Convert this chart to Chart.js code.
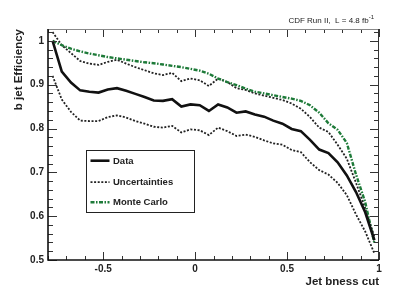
<!DOCTYPE html>
<html>
<head>
<meta charset="utf-8">
<script src="https://cdn.jsdelivr.net/npm/chart.js@4.4.1/dist/chart.umd.min.js"></script>
<style>
html,body{margin:0;padding:0;background:#fff;}
#wrap{width:399px;height:290px;}
</style>
</head>
<body>
<div id="wrap"><canvas id="c" width="399" height="290"></canvas></div>
<script>
// ---- data ----
const xValues = [-0.775,-0.725,-0.675,-0.625,-0.575,-0.525,-0.475,-0.425,-0.375,-0.325,-0.275,-0.225,-0.175,-0.125,-0.075,-0.025,0.025,0.075,0.125,0.175,0.225,0.275,0.325,0.375,0.425,0.475,0.525,0.575,0.625,0.675,0.725,0.775,0.825,0.875,0.925,0.975];
const dataEff = [1.0,0.93,0.905,0.887,0.884,0.882,0.889,0.892,0.886,0.879,0.872,0.864,0.863,0.867,0.85,0.855,0.853,0.84,0.855,0.848,0.836,0.839,0.832,0.827,0.818,0.811,0.799,0.794,0.774,0.752,0.744,0.723,0.693,0.655,0.609,0.545];
const uncUpper = [1.02,0.99,0.972,0.954,0.948,0.945,0.952,0.957,0.948,0.94,0.933,0.926,0.922,0.927,0.908,0.914,0.91,0.897,0.914,0.906,0.892,0.888,0.88,0.875,0.87,0.865,0.857,0.845,0.826,0.802,0.792,0.763,0.731,0.676,0.618,0.553];
const uncLower = [0.92,0.866,0.838,0.818,0.817,0.817,0.826,0.83,0.825,0.817,0.811,0.804,0.802,0.806,0.791,0.798,0.796,0.785,0.802,0.794,0.783,0.786,0.781,0.773,0.766,0.763,0.751,0.746,0.723,0.705,0.695,0.676,0.648,0.604,0.565,0.515];
const mcEff = [1.0,0.99,0.982,0.976,0.971,0.967,0.963,0.96,0.957,0.954,0.951,0.949,0.946,0.943,0.94,0.936,0.932,0.925,0.914,0.906,0.899,0.891,0.884,0.88,0.876,0.872,0.868,0.863,0.853,0.836,0.812,0.797,0.767,0.695,0.632,0.538];
const yTickValues = [0.5,0.6,0.7,0.8,0.9,1];
const xTickValues = [-0.5,0,0.5,1];
const legendLabels = ['Data','Uncertainties','Monte Carlo'];
const xTitle = 'Jet bness cut';
const yTitle = 'b jet Efficiency';
const topLabel = 'CDF Run II,  L = 4.8 fb';
const topLabelSup = '-1';

const GREEN = '#1d7a38';
const FONT = '"Liberation Sans", Arial, Helvetica, sans-serif';

function pts(arr){ return xValues.map((x,i)=>({x:x,y:arr[i]})); }

const dsData = {label:legendLabels[0], data:pts(dataEff), borderColor:'#111', borderWidth:2.6, pointRadius:0, tension:0, order:0, fill:false};
const dsUp = {label:legendLabels[1], data:pts(uncUpper), borderColor:'#222', borderWidth:1.8, borderDash:[2,1.6], pointRadius:0, tension:0, order:2, fill:false};
const dsLo = {label:legendLabels[1]+' (low)', data:pts(uncLower), borderColor:'#222', borderWidth:1.8, borderDash:[2,1.6], pointRadius:0, tension:0, order:2, fill:false};
const dsMC = {label:legendLabels[2], data:pts(mcEff), borderColor:GREEN, borderWidth:2.4, borderDash:[4,1.5,1.5,1.5], pointRadius:0, tension:0, order:1, fill:false};

const decor = {
  id:'decor',
  afterDraw(chart){
    const ctx = chart.ctx, a = chart.chartArea;
    const xs = chart.scales.x, ys = chart.scales.y;
    ctx.save();
    // ticks
    ctx.strokeStyle = '#333';
    ctx.lineWidth = 1;
    for(let k=0;k<=27;k++){
      const v = 0.5 + k*0.02;
      if(v > ys.max) break;
      const py = Math.round(ys.getPixelForValue(v))+0.5;
      const major = (k%5===0);
      const L = major ? 9 : 5;
      ctx.beginPath();
      ctx.moveTo(a.left,py); ctx.lineTo(a.left+L,py);
      ctx.moveTo(a.right,py); ctx.lineTo(a.right-L,py);
      ctx.stroke();
    }
    for(let k=-8;k<=10;k++){
      const v = k*0.1;
      const px = Math.round(xs.getPixelForValue(v))+0.5;
      const major = (k%5===0);
      const L = major ? 8 : 4;
      ctx.beginPath();
      ctx.moveTo(px,a.bottom); ctx.lineTo(px,a.bottom-L);
      ctx.moveTo(px,a.top); ctx.lineTo(px,a.top+L);
      ctx.stroke();
    }
    // frame
    ctx.strokeStyle = '#888';
    ctx.lineWidth = 1;
    ctx.beginPath(); ctx.moveTo(a.left,a.top+0.5); ctx.lineTo(a.right,a.top+0.5); ctx.stroke();
    ctx.strokeStyle = '#333';
    ctx.beginPath(); ctx.moveTo(a.right-0.5,a.top); ctx.lineTo(a.right-0.5,a.bottom); ctx.stroke();
    ctx.strokeStyle = '#111';
    ctx.lineWidth = 1.6;
    ctx.beginPath(); ctx.moveTo(a.left,a.top); ctx.lineTo(a.left,a.bottom); ctx.lineTo(a.right,a.bottom); ctx.stroke();

    // legend
    const lx = 86.5, ly = 150.5, lw = 108, lh = 62;
    ctx.fillStyle = '#fff';
    ctx.fillRect(lx,ly,lw,lh);
    ctx.strokeStyle = '#222'; ctx.lineWidth = 1;
    ctx.strokeRect(lx,ly,lw,lh);
    const rows = [[dsData,160.7],[dsUp,182.2],[dsMC,202.3]];
    rows.forEach((r,i)=>{
      const ds = r[0], y = r[1];
      ctx.save();
      ctx.strokeStyle = ds.borderColor; ctx.lineWidth = ds.borderWidth;
      ctx.setLineDash(ds.borderDash || []);
      ctx.beginPath(); ctx.moveTo(90.5,y); ctx.lineTo(109.5,y); ctx.stroke();
      ctx.restore();
      ctx.fillStyle = '#222';
      ctx.font = 'bold 9.5px ' + FONT;
      ctx.textAlign = 'left'; ctx.textBaseline = 'middle';
      ctx.fillText(legendLabels[i], 113, y+0.5);
    });

    // axis titles
    ctx.fillStyle = '#222';
    ctx.font = 'bold 11.5px ' + FONT;
    ctx.textAlign = 'right'; ctx.textBaseline = 'alphabetic';
    ctx.fillText(xTitle, a.right, 284.5);
    ctx.save();
    ctx.translate(22, a.top);
    ctx.rotate(-Math.PI/2);
    ctx.textAlign = 'right';
    ctx.fillText(yTitle, 0, 0);
    ctx.restore();

    // top label
    ctx.font = '6px ' + FONT;
    const supW = ctx.measureText(topLabelSup).width;
    ctx.font = '8px ' + FONT;
    ctx.textAlign = 'right';
    ctx.fillText(topLabel, 374 - supW, 22.5);
    ctx.font = '6px ' + FONT;
    ctx.textAlign = 'left';
    ctx.fillText(topLabelSup, 374 - supW, 19);
    ctx.restore();
  }
};

new Chart(document.getElementById('c'), {
  type:'line',
  data:{ datasets:[dsData, dsMC, dsUp, dsLo] },
  options:{
    responsive:false,
    animation:false,
    devicePixelRatio:1,
    layout:{ padding:{left:0, top:29, right:20, bottom:0} },
    plugins:{ legend:{display:false}, tooltip:{enabled:false} },
    scales:{
      x:{
        type:'linear', min:-0.8, max:1,
        grid:{display:false, drawTicks:false},
        border:{display:false},
        afterBuildTicks(s){ s.ticks = xTickValues.map(v=>({value:v})); },
        afterFit(s){ s.height = 30; },
        ticks:{ color:'#222', font:{family:FONT, size:10, weight:'bold'}, padding:3, maxRotation:0, autoSkip:false,
          callback:(v)=>String(v) }
      },
      y:{
        type:'linear', min:0.5, max:1.027,
        grid:{display:false, drawTicks:false},
        border:{display:false},
        afterBuildTicks(s){ s.ticks = yTickValues.map(v=>({value:v})); },
        afterFit(s){ s.width = 48; },
        ticks:{ color:'#222', font:{family:FONT, size:10, weight:'bold'}, padding:4, autoSkip:false,
          callback:(v)=>String(v) }
      }
    }
  },
  plugins:[decor]
});
</script>
</body>
</html>
